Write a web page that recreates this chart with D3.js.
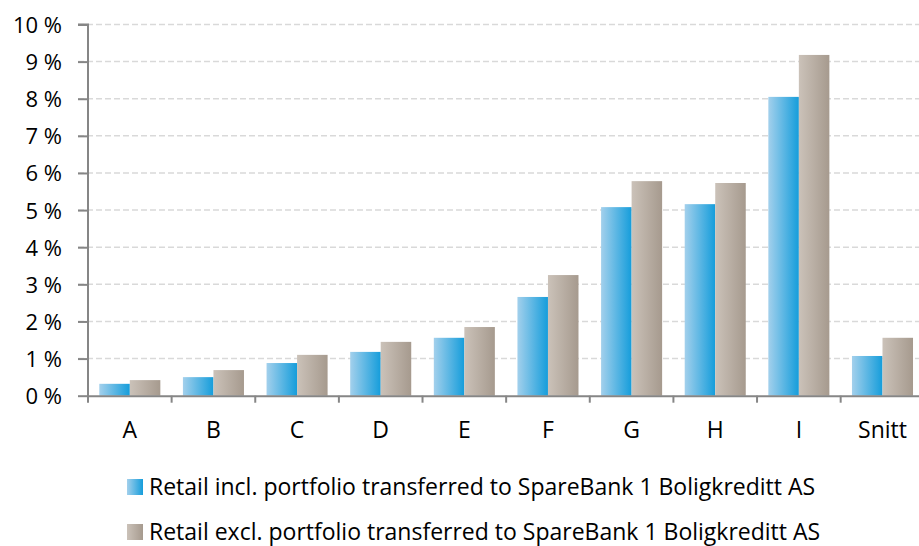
<!DOCTYPE html>
<html><head><meta charset="utf-8">
<script src="https://cdn.jsdelivr.net/npm/d3@7"></script>
<style>body{margin:0;background:#fff}svg{display:block}</style>
</head><body>
<script>
const categories = ["A","B","C","D","E","F","G","H","I","Snitt"];
const seriesNames = ["Retail incl. portfolio transferred to SpareBank 1 Boligkreditt AS",
                     "Retail excl. portfolio transferred to SpareBank 1 Boligkreditt AS"];
const inclValues = [0.32,0.50,0.88,1.18,1.56,2.66,5.08,5.16,8.05,1.07];
const exclValues = [0.42,0.69,1.10,1.45,1.85,3.25,5.78,5.73,9.18,1.56];
const yTicks = [0,1,2,3,4,5,6,7,8,9,10];

const W=919,H=546;
const font="'Open Sans', Lato, sans-serif";
const svg=d3.select("body").append("svg").attr("width",W).attr("height",H);
const defs=svg.append("defs");
function grad(id,c1,c2){const g=defs.append("linearGradient").attr("id",id).attr("x1","0").attr("x2","1").attr("y1","0").attr("y2","0");
 g.append("stop").attr("offset","0").attr("stop-color",c1);g.append("stop").attr("offset","1").attr("stop-color",c2);}
grad("gBlue","#a3d0ec","#159ddb");
grad("gGray","#cbc2b9","#a69a8e");

const x0=88, x1=924.3, yTop=24.5, yBot=395.7;
const x=d3.scaleBand().domain(categories).range([x0,x1]).paddingInner(0).paddingOuter(0);
const y=d3.scaleLinear().domain([0,10]).range([yBot,yTop]);
const sub=d3.scaleBand().domain([0,1]).range([0,x.bandwidth()]).paddingOuter(0.37).paddingInner(0);

// gridlines
svg.append("g").selectAll("line").data(yTicks.filter(d=>d>0)).join("line")
 .attr("x1",x0-10).attr("x2",W).attr("y1",d=>y(d)).attr("y2",d=>y(d))
 .attr("stroke","#d9d9d9").attr("stroke-width",1.5).attr("stroke-dasharray","6,3");

// bars
const series=[inclValues,exclValues];
const fills=["url(#gBlue)","url(#gGray)"];
series.forEach((vals,si)=>{
 svg.append("g").selectAll("rect").data(categories).join("rect")
  .attr("x",(c)=>x(c)+sub(si)).attr("width",sub.bandwidth())
  .attr("y",(c,i)=>y(vals[i])).attr("height",(c,i)=>yBot-y(vals[i]))
  .attr("fill",fills[si]);
});

// y axis
const yAxis=d3.axisLeft(y).tickValues(yTicks).tickSize(10).tickFormat(d=>d+" %");
const gy=svg.append("g").attr("transform",`translate(${x0},0)`).call(yAxis);
gy.select(".domain").attr("stroke","#868686").attr("stroke-width",2).attr("d",`M-10,${yTop}H0V${yBot+7}`);
gy.selectAll(".tick line").attr("stroke","#868686").attr("stroke-width",2);
gy.selectAll(".tick text").attr("font-family",font).attr("font-size",22).attr("fill","#000").attr("x",-26).attr("dy","0.36em");

// x axis
const xAxis=d3.axisBottom(x).tickSize(0).tickSizeOuter(0);
const gx=svg.append("g").attr("transform",`translate(0,${yBot})`).call(xAxis);
gx.select(".domain").attr("stroke","#868686").attr("stroke-width",2);
gx.selectAll(".tick text").attr("font-family",font).attr("font-size",23).attr("fill","#000").attr("dy",0).attr("y",42);
svg.append("g").selectAll("line").data(categories.slice(1)).join("line")
 .attr("x1",c=>x(c)).attr("x2",c=>x(c)).attr("y1",yBot).attr("y2",yBot+7)
 .attr("stroke","#868686").attr("stroke-width",2);

// legend
const lg=svg.append("g");
seriesNames.forEach((n,i)=>{
 const base=495+i*45;
 lg.append("rect").attr("x",127).attr("y",base-16).attr("width",16).attr("height",16).attr("fill",fills[i]);
 lg.append("text").attr("x",149).attr("y",base).attr("font-family",font).attr("font-size",23).attr("fill","#000").text(n);
});
</script>
</body></html>
